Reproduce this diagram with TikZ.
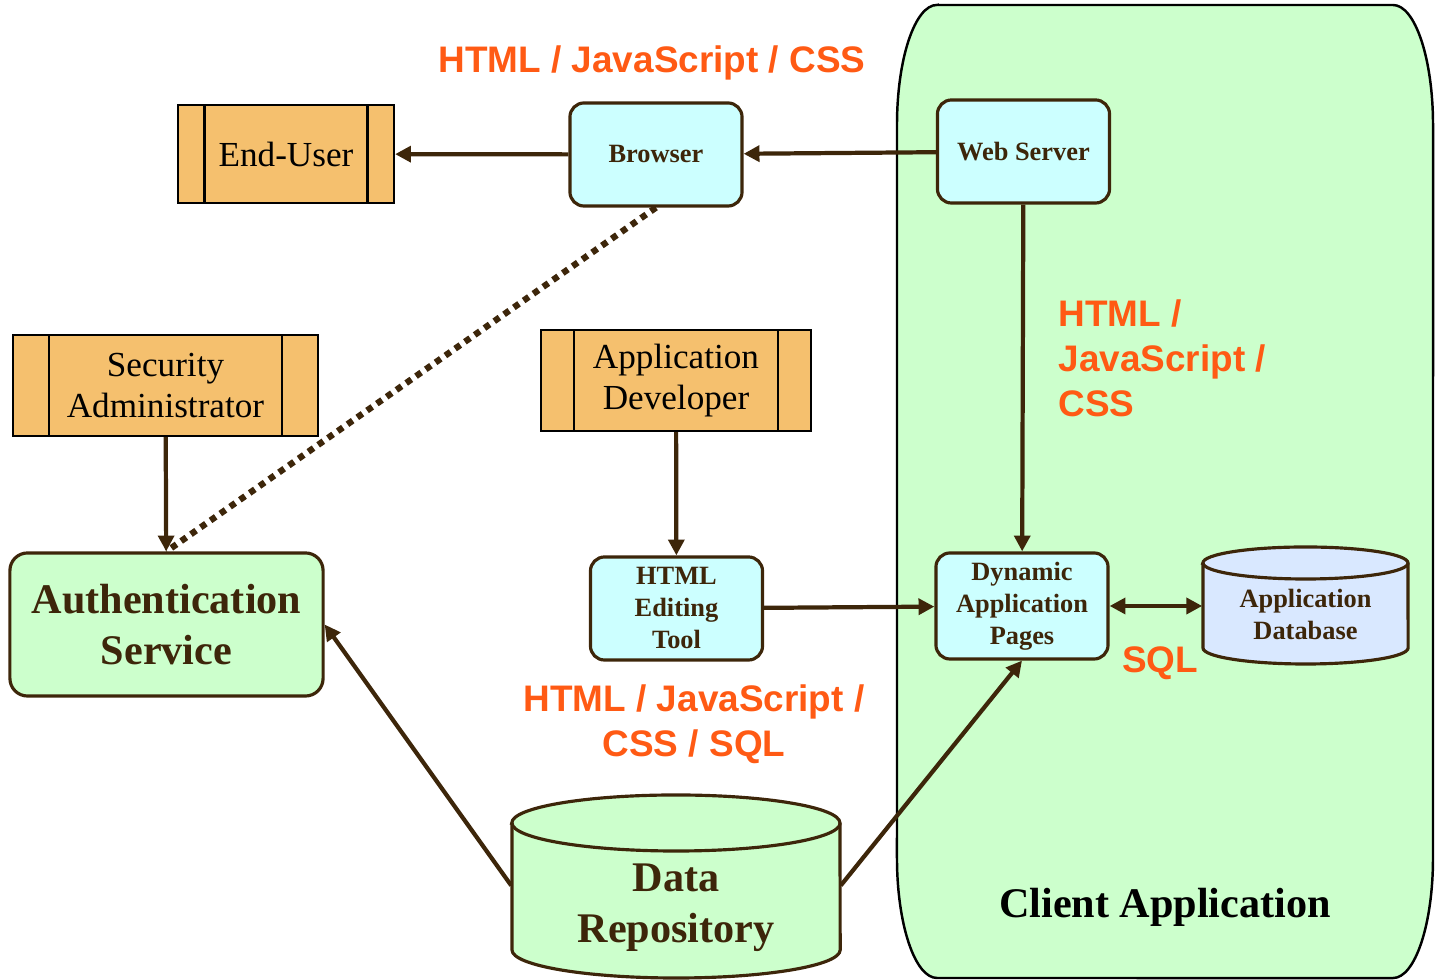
\documentclass[tikz,border=0pt]{standalone}
\usepackage{fontspec}
\setmainfont{Liberation Serif}
\newfontfamily\labelfont{Liberation Sans}
\usetikzlibrary{arrows.meta}

\definecolor{edgebrown}{RGB}{61,38,10}
\definecolor{actorfill}{RGB}{245,192,110}
\definecolor{toolfill}{RGB}{204,255,255}
\definecolor{greenfill}{RGB}{204,255,204}
\definecolor{dbfill}{RGB}{217,232,255}
\definecolor{labelorange}{RGB}{255,90,20}

\tikzset{actor/.style={rectangle, draw=black, line width=0.6pt, fill=actorfill, inner sep=0pt, align=center,
	font=\fontsize{10}{11.9}\selectfont,
	path picture={
		\draw[line width=0.6pt] ([xshift=#1]path picture bounding box.north west) -- ([xshift=#1]path picture bounding box.south west);
		\draw[line width=0.6pt] ([xshift=-#1]path picture bounding box.north east) -- ([xshift=-#1]path picture bounding box.south east);
	}}}
\tikzstyle{tool}=[rectangle, rounded corners=4pt, draw=edgebrown, line width=0.9pt, fill=toolfill, text=edgebrown, inner sep=0pt, align=center, font=\fontsize{7.5}{9.1}\selectfont\bfseries, minimum width=1.72cm, minimum height=1.03cm]
\tikzstyle{service}=[rectangle, rounded corners=5pt, draw=edgebrown, line width=0.9pt, fill=greenfill, text=edgebrown, inner sep=0pt, align=center, font=\fontsize{12}{14.5}\selectfont\bfseries]
\tikzstyle{store}=[draw=edgebrown, line width=0.9pt]
\tikzstyle{tag}=[text=labelorange, inner sep=0pt, font=\labelfont\bfseries\fontsize{10.5}{12.8}\selectfont]
\tikzstyle{flow}=[-{Triangle[length=4.5pt,width=4.5pt]}, line width=1.2pt, draw=edgebrown]
\tikzstyle{dotflow}=[line width=1.8pt, draw=edgebrown, dash pattern=on 1.8pt off 1.6pt]

\begin{document}
\begin{tikzpicture}[x=0.01cm, y=-0.01cm]
	\useasboundingbox (0,0) rectangle (1438,980);

	% Client-Bereich
	\filldraw[fill=greenfill, draw=black, line width=0.7pt] (937,5) -- (1393,5)
		arc[start angle=90, end angle=0, x radius=0.4cm, y radius=1.2cm] -- (1433,858)
		arc[start angle=0, end angle=-90, x radius=0.4cm, y radius=1.2cm] -- (937,978)
		arc[start angle=270, end angle=180, x radius=0.4cm, y radius=1.2cm] -- (897,125)
		arc[start angle=180, end angle=90, x radius=0.4cm, y radius=1.2cm] -- cycle;
	\node(client) at (1165,907) [font=\fontsize{12}{14.5}\selectfont\bfseries] {Client Application};

	% Datenbanken
	\filldraw[store, fill=dbfill] (1203,563) -- (1203,648)
		arc[start angle=180, end angle=360, x radius=1.025cm, y radius=0.16cm] -- (1408,563)
		arc[start angle=0, end angle=180, x radius=1.025cm, y radius=0.16cm] -- cycle;
	\draw[store] (1203,563) arc[start angle=180, end angle=360, x radius=1.025cm, y radius=0.16cm];
	\node(appdb) at (1305.5,614.5) [inner sep=0pt, minimum width=2.05cm, minimum height=1.01cm, text=edgebrown, align=center, font=\fontsize{7.5}{9.1}\selectfont\bfseries] {Application\\Database};

	\filldraw[store, fill=greenfill] (512,823) -- (512,950)
		arc[start angle=180, end angle=360, x radius=1.64cm, y radius=0.28cm] -- (840,823)
		arc[start angle=0, end angle=180, x radius=1.64cm, y radius=0.28cm] -- cycle;
	\draw[store] (512,823) arc[start angle=180, end angle=360, x radius=1.64cm, y radius=0.28cm];
	\node(repo) at (676,907.5) [inner sep=0pt, minimum width=3.28cm, minimum height=1.40cm, text=edgebrown, align=center, font=\fontsize{12}{14.5}\selectfont\bfseries] {Data\\Repository};

	% Akteure
	\node(enduser) at (286,154) [actor=0.265cm, minimum width=2.16cm, minimum height=0.98cm] {End-User};
	\node(secadmin) at (165.5,385.5) [actor=0.365cm, minimum width=3.05cm, minimum height=1.01cm] {Security\\Administrator};
	\node(appdev) at (676,380.5) [actor=0.335cm, minimum width=2.70cm, minimum height=1.01cm] {Application\\Developer};

	% Werkzeuge
	\node(browser) at (656,154.5) [tool] {Browser};
	\node(webserver) at (1023.5,151.5) [tool] {Web Server};
	\node(htmltool) at (676.5,608.5) [tool] {HTML\\Editing\\Tool};
	\node(dap) at (1022,606) [tool, minimum height=1.06cm] {Dynamic\\Application\\Pages};
	\node(auth) at (166.5,624.5) [service, minimum width=3.13cm, minimum height=1.43cm] {Authentication\\Service};

	% Beschriftungen
	\node(tagTop) at (652,63) [tag] {HTML / JavaScript / CSS};
	\node(tagRight) at (1058,358) [tag, anchor=west, align=left] {HTML /\\JavaScript /\\CSS};
	\node(tagMid) at (694,724) [tag, align=center] {HTML / JavaScript /\\CSS / SQL};
	\node(tagSql) at (1160,663) [tag] {SQL};

	% Pfeile
	\draw[flow] (browser) -- (enduser);
	\draw[flow] (webserver) -- (browser);
	\draw[flow] (webserver) -- (dap);
	\draw[flow] (secadmin) -- (auth);
	\draw[dotflow] (browser.south) -- (auth.north);
	\draw[flow] (appdev) -- (htmltool);
	\draw[flow] (htmltool) -- (dap);
	\draw[{Triangle[length=4.5pt,width=4.5pt]}-{Triangle[length=4.5pt,width=4.5pt]}, line width=1.2pt, draw=edgebrown] (dap) -- (appdb.west |- dap);
	\draw[flow] ([yshift=0.22cm]repo.west) -- (auth.east);
	\draw[flow] ([yshift=0.22cm]repo.east) -- (dap.south);

\end{tikzpicture}
\end{document}
